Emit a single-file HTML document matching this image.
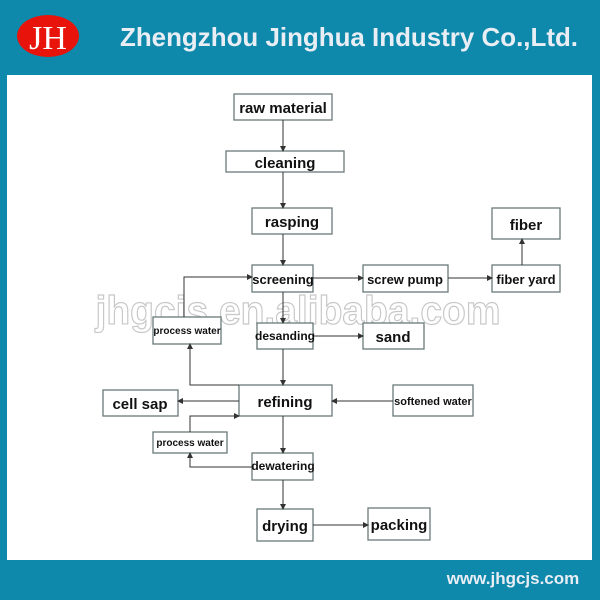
<!DOCTYPE html>
<html><head><meta charset="utf-8"><style>
body{margin:0;width:600px;height:600px;overflow:hidden;background:#0e88ab;font-family:"Liberation Sans",sans-serif}
</style></head><body>
<svg width="600" height="600" xmlns="http://www.w3.org/2000/svg" style="position:absolute;left:0;top:0">
<defs><marker id="a" markerWidth="6" markerHeight="6" refX="5" refY="3" orient="auto" markerUnits="userSpaceOnUse"><path d="M0,0L6,3L0,6z" fill="#333"/></marker></defs>
<rect x="0" y="0" width="600" height="600" fill="#0e88ab"/>
<rect x="7" y="75" width="585" height="485" fill="#fff"/>
<ellipse cx="48" cy="36" rx="31" ry="21" fill="#e8140c"/>
<text x="48" y="49" font-family="Liberation Serif,serif" font-size="34" fill="#fff" text-anchor="middle">JH</text>
<text x="349" y="46" font-size="26" font-weight="bold" fill="#e8eef4" text-anchor="middle" textLength="458" lengthAdjust="spacingAndGlyphs">Zhengzhou Jinghua Industry Co.,Ltd.</text>
<text x="513" y="584" font-size="17" font-weight="bold" fill="#e8eef4" text-anchor="middle">www.jhgcjs.com</text>
<text x="298" y="324" font-size="40" font-weight="bold" fill="none" stroke="#c8c8c8" stroke-width="1.2" text-anchor="middle" textLength="405" lengthAdjust="spacingAndGlyphs">jhgcjs.en.alibaba.com</text>
<g fill="#fff" stroke="#6a7a78" stroke-width="1.3">
<rect x="234" y="94" width="98" height="26"/>
<rect x="226" y="151" width="118" height="21"/>
<rect x="252" y="208" width="80" height="26"/>
<rect x="492" y="208" width="68" height="31"/>
<rect x="252" y="265" width="61" height="27"/>
<rect x="363" y="265" width="85" height="27"/>
<rect x="492" y="265" width="68" height="27"/>
<rect x="153" y="317" width="68" height="27"/>
<rect x="257" y="323" width="56" height="26"/>
<rect x="363" y="323" width="61" height="26"/>
<rect x="239" y="385" width="93" height="31"/>
<rect x="103" y="390" width="75" height="26"/>
<rect x="393" y="385" width="80" height="31"/>
<rect x="153" y="432" width="74" height="21"/>
<rect x="252" y="453" width="61" height="27"/>
<rect x="257" y="509" width="56" height="32"/>
<rect x="368" y="508" width="62" height="32"/>
</g>
<g stroke="#333" stroke-width="1" fill="none" marker-end="url(#a)">
<path d="M283 120V151"/><path d="M283 172V208"/><path d="M283 234V265"/>
<path d="M313 278H363"/><path d="M448 278H492"/><path d="M522 265V239"/>
<path d="M184 317V277H252"/>
<path d="M283 292V323"/><path d="M313 336H363"/><path d="M283 349V385"/>
<path d="M239 385H190V344"/>
<path d="M239 401H178"/><path d="M393 401H332"/>
<path d="M190 432V416H239"/>
<path d="M283 416V453"/>
<path d="M252 467H190V453"/>
<path d="M283 480V509"/><path d="M313 525H368"/>
</g>
<g font-weight="bold" fill="#111" text-anchor="middle">
<text x="283" y="113" font-size="15">raw material</text>
<text x="285" y="168" font-size="15">cleaning</text>
<text x="292" y="227" font-size="15">rasping</text>
<text x="526" y="230" font-size="15">fiber</text>
<text x="283" y="284" font-size="13">screening</text>
<text x="405" y="284" font-size="13">screw pump</text>
<text x="526" y="284" font-size="13">fiber yard</text>
<text x="187" y="334" font-size="10">process water</text>
<text x="285" y="340" font-size="12">desanding</text>
<text x="393" y="342" font-size="15">sand</text>
<text x="285" y="407" font-size="15">refining</text>
<text x="140" y="409" font-size="15">cell sap</text>
<text x="433" y="405" font-size="11">softened water</text>
<text x="190" y="446" font-size="10">process water</text>
<text x="283" y="470" font-size="12">dewatering</text>
<text x="285" y="531" font-size="15">drying</text>
<text x="399" y="530" font-size="15">packing</text>
</g>
</svg>
</body></html>
